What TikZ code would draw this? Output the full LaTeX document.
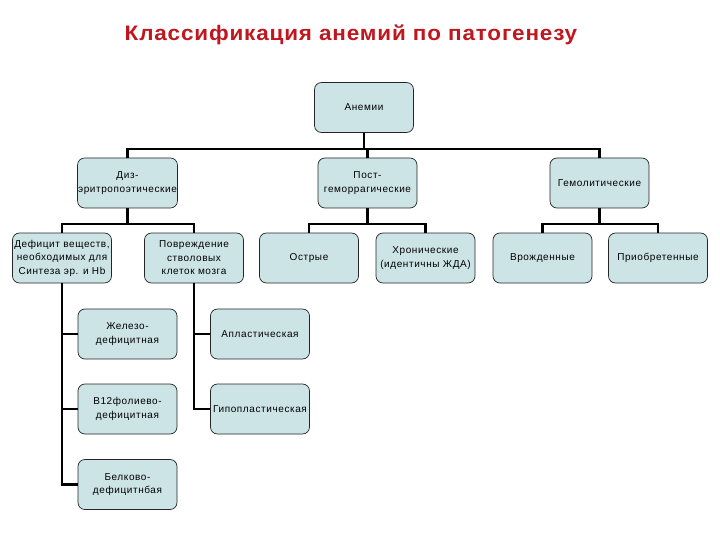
\documentclass[tikz,border=0pt]{standalone}
\usepackage{fontspec}
\setmainfont{Liberation Sans}
\usepackage{tikz}
\usetikzlibrary{positioning}
\definecolor{boxfill}{HTML}{CDE4E7}
\definecolor{titlered}{HTML}{C0161E}

\begin{document}
\begin{tikzpicture}[
  x=1pt,y=-1pt,
  box/.style={draw=black!85,line width=0.7pt,fill=boxfill,rounded corners=7pt,minimum width=99pt,minimum height=50pt,
    inner sep=0.5pt,align=center,font=\fontsize{10}{13.5}\selectfont\addfontfeatures{LetterSpace=6}},
  link/.style={line width=2.2pt,line join=miter}
]
\useasboundingbox (0,0) rectangle (720,540);
\node[font=\bfseries\fontsize{21}{24}\selectfont\addfontfeatures{FakeStretch=1.07,LetterSpace=4},text=titlered] (title) at (351,35) {Классификация анемий по патогенезу};
% top level
\node[box] (anemia) at (364,107.5) {Анемии};
\node[box] (dys) at (127.5,183) {Диз-\\эритропоэтические};
\node[box] (post) at (367.5,183) {Пост-\\геморрагические};
\node[box] (hemol) at (599.5,183) {Гемолитические};
% third level
\node[box] (deficit) at (62,258) {Дефицит веществ,\\необходимых для\\Синтеза эр. и Hb};
\node[box] (damage) at (194,258) {Повреждение\\стволовых\\клеток мозга};
\node[box] (acute) at (309,258) {Острые};
\node[box] (chronic) at (425.5,258) {Хронические\\(идентичны ЖДА)};
\node[box] (congen) at (542.5,258) {Врожденные};
\node[box] (acquired) at (658,258) {Приобретенные};
% fourth level
\node[box] (iron) at (127.5,334) {Железо-\\дефицитная};
\node[box] (b12) at (127.5,409) {B12фолиево-\\дефицитная};
\node[box] (protein) at (127.5,484.5) {Белково-\\дефицитнбая};
\node[box] (aplast) at (260,334) {Апластическая};
\node[box] (hypo) at (260,409) {Гипопластическая};
% connectors
\draw[link] (dys.north) -- ++(0,-9) -| (hemol.north);
\draw[link] (anemia.south) -- ++(0,16) -| (post.north);
\draw[link] (deficit.north) -- ++(0,-9) -| (damage.north);
\draw[link] (dys.south) -- ++(0,16);
\draw[link] (acute.north) -- ++(0,-9) -| (chronic.north);
\draw[link] (post.south) -- ++(0,16);
\draw[link] (congen.north) -- ++(0,-9) -| (acquired.north);
\draw[link] (hemol.south) -- ++(0,16);
\draw[link] (deficit.south) |- (protein.west);
\draw[link] (deficit.south |- iron.west) -- (iron.west);
\draw[link] (deficit.south |- b12.west) -- (b12.west);
\draw[link] (damage.south) |- (hypo.west);
\draw[link] (damage.south |- aplast.west) -- (aplast.west);
\end{tikzpicture}
\end{document}
